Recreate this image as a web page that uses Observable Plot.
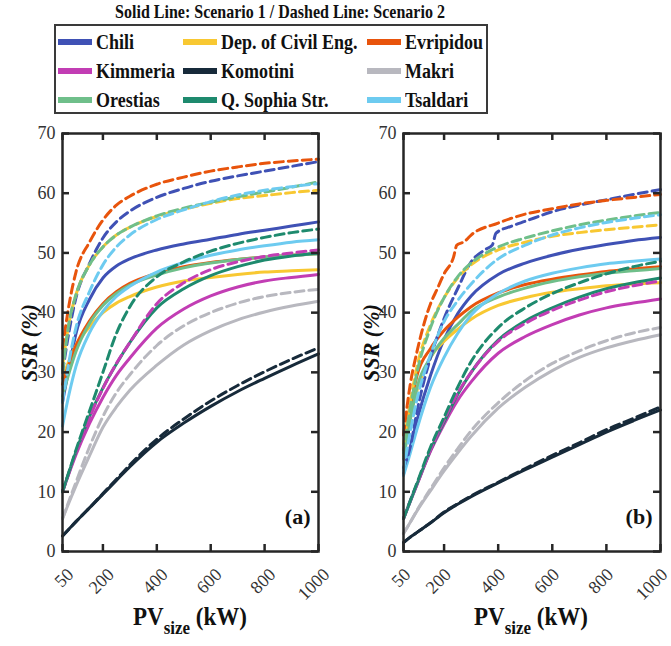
<!DOCTYPE html>
<html><head><meta charset="utf-8">
<script src="https://cdn.jsdelivr.net/npm/d3@7"></script>
<script src="https://cdn.jsdelivr.net/npm/@observablehq/plot@0.6"></script>
<style>
body{margin:0;background:#fff;}
#wrap{position:relative;width:671px;height:646px;overflow:hidden;font-family:"Liberation Serif","DejaVu Serif",serif;color:#111;}
.title{position:absolute;left:0;width:560px;top:3px;text-align:center;font-weight:bold;font-size:16px;transform:scaleY(1.2);}
#legend{position:absolute;left:54px;top:24px;width:430px;height:86px;border:2px solid #3a3a3a;}
.item{position:absolute;height:20px;display:flex;align-items:center;}
.sw{width:34px;height:6px;margin-right:4px;flex:none;}
.lab{font-weight:bold;font-size:18px;transform:scaleY(1.2);transform-origin:left center;white-space:nowrap;}
.panel{position:absolute;top:118px;}
.ylab{position:absolute;font-weight:bold;font-style:italic;font-size:22px;transform:translate(-50%,-50%) rotate(-90deg) scaleY(1.05);white-space:nowrap;}
.xlab{position:absolute;font-weight:bold;font-size:23px;transform:translateX(-50%) scaleY(1.12);white-space:nowrap;}
.xlab sub{font-size:17px;vertical-align:-8px;}
</style></head>
<body>
<div id="wrap">
  <div class="title">Solid Line: Scenario 1 / Dashed Line: Scenario 2</div>
  <div id="legend"></div>
  <div class="panel" id="pa" style="left:0px"></div>
  <div class="panel" id="pb" style="left:340px"></div>
  <div class="ylab" style="left:30px;top:343px">SSR (%)</div>
  <div class="ylab" style="left:372px;top:343px">SSR (%)</div>
  <div class="xlab" style="left:190px;top:605px">PV<sub>size</sub> (kW)</div>
  <div class="xlab" style="left:531px;top:605px">PV<sub>size</sub> (kW)</div>
</div>
<script>
// ---------- data ----------
const sizes = [50, 75, 100, 150, 200, 250, 300, 400, 500, 600, 700, 800, 900, 1000];
const xTicks = [50, 200, 400, 600, 800, 1000];
const yTicks = [0, 10, 20, 30, 40, 50, 60, 70];
const names = ["Chili", "Dep. of Civil Eng.", "Evripidou", "Kimmeria", "Komotini", "Makri", "Orestias", "Q. Sophia Str.", "Tsaldari"];
const colors = ["#3F51B5", "#F8C832", "#E8540C", "#C23DB4", "#172A3A", "#B8B8BF", "#6FBF8A", "#1E8A6E", "#6DCBF0"];

// Panel (a) - Scenario 1 (solid)
const chiliA1 = [25, 31, 36.5, 42.2, 45.8, 47.8, 49.0, 50.5, 51.5, 52.3, 53.1, 53.8, 54.5, 55.2];
const depA1   = [29, 32, 34.5, 37.6, 40.0, 41.6, 42.7, 44.3, 45.3, 45.9, 46.4, 46.8, 47.0, 47.2];
const evrA1   = [28, 31.5, 34.5, 38.6, 41.5, 43.5, 44.9, 46.6, 47.7, 48.4, 48.9, 49.3, 49.6, 49.9];
const kimA1   = [10, 13.2, 16.2, 21.4, 25.8, 29.5, 32.4, 37.4, 40.6, 42.8, 44.3, 45.3, 45.9, 46.4];
const komA1   = [2.6, 3.8, 5.0, 7.3, 9.6, 11.9, 14.2, 18.3, 21.5, 24.3, 26.8, 29.0, 31.1, 33.1];
const makA1   = [5.5, 8.3, 11.0, 16.0, 20.8, 24.2, 27.0, 31.2, 34.6, 37.0, 38.8, 40.1, 41.1, 41.9];
const oreA1   = [26, 30, 33.5, 38.2, 41.2, 43.2, 44.6, 46.3, 47.5, 48.3, 48.9, 49.3, 49.6, 49.8];
const qsoA1   = [10, 13.4, 16.7, 22.6, 27.4, 31.4, 35.0, 40.8, 44.0, 46.2, 47.7, 48.8, 49.5, 50.0];
const tsaA1   = [21, 26.5, 31, 36.6, 40.2, 42.7, 44.4, 46.8, 48.4, 49.6, 50.5, 51.2, 51.8, 52.2];
// Panel (a) - Scenario 2 (dashed)
const chiliA2 = [30, 37, 42.5, 48.2, 52.5, 55.2, 57.0, 59.3, 60.8, 62.0, 62.9, 63.7, 64.5, 65.3];
const depA2   = [31, 38.5, 43, 48.0, 51.0, 53.0, 54.3, 56.1, 57.3, 58.3, 59.1, 59.6, 60.1, 60.5];
const evrA2   = [34, 41.5, 46.8, 51.8, 55.5, 58.0, 59.5, 61.5, 62.7, 63.7, 64.4, 65.0, 65.4, 65.7];
const kimA2   = [10, 13.3, 16.6, 22.4, 27.3, 31.5, 35.0, 41.5, 45.0, 47.2, 48.5, 49.4, 50.0, 50.5];
const komA2   = [2.6, 3.8, 5.0, 7.3, 9.7, 12.1, 14.5, 18.8, 22.2, 25.2, 27.8, 30.1, 32.2, 34.1];
const makA2   = [5.5, 8.6, 11.6, 17.5, 22.6, 26.6, 29.6, 34.5, 37.8, 40.0, 41.6, 42.7, 43.4, 43.9];
const oreA2   = [30, 38.5, 43, 48.0, 51.0, 53.0, 54.3, 56.2, 57.5, 58.5, 59.4, 60.2, 61.0, 61.9];
const qsoA2   = [10, 13.5, 17, 23.5, 30.0, 36.5, 41.0, 46.0, 48.5, 50.3, 51.6, 52.6, 53.4, 54.0];
const tsaA2   = [25, 32, 37.5, 43.5, 48.0, 51.0, 53.0, 55.6, 57.2, 58.6, 59.7, 60.5, 61.1, 61.6];

// Panel (b) - Scenario 1 (solid)
const chiliB1 = [13, 17.5, 22, 29.5, 35.5, 39.8, 42.8, 46.4, 48.3, 49.6, 50.6, 51.4, 52.1, 52.6];
const depB1   = [16, 22.5, 27, 32.5, 35.2, 37.2, 38.9, 41.2, 42.5, 43.4, 44.0, 44.5, 44.8, 45.0];
const evrB1   = [17, 24, 29.5, 34, 37.0, 39.2, 41.0, 43.3, 44.7, 45.6, 46.3, 46.9, 47.3, 47.7];
const kimB1   = [5.5, 8.4, 11.2, 16.8, 21.3, 25.3, 28.4, 33.2, 36.0, 38.0, 39.6, 40.8, 41.6, 42.3];
const komB1   = [1.5, 2.4, 3.2, 4.8, 6.5, 7.9, 9.2, 11.5, 13.7, 15.8, 17.9, 20.0, 21.9, 23.7];
const makB1   = [3, 4.9, 6.8, 10.2, 13.5, 16.5, 19.3, 24.0, 27.5, 30.3, 32.5, 34.1, 35.3, 36.3];
const oreB1   = [15.5, 22, 27.5, 32.5, 35.7, 38.0, 40.2, 42.6, 44.1, 45.2, 46.0, 46.6, 47.0, 47.4];
const qsoB1   = [5.5, 8.4, 11.3, 17, 21.7, 26.3, 30.0, 35.4, 38.6, 40.8, 42.6, 44.0, 45.0, 45.8];
const tsaB1   = [12.7, 16.5, 20.5, 27.5, 32.5, 36.5, 39.6, 43.2, 45.3, 46.6, 47.5, 48.2, 48.6, 49.0];
// Panel (b) - Scenario 2 (dashed)
const chiliB2Sizes = [50, 75, 100, 150, 200, 250, 300, 350, 378, 392, 450, 500, 600, 700, 800, 900, 1000];
const chiliB2 = [14, 17.5, 23.5, 32.5, 39, 44, 48.5, 50.5, 51.3, 53.3, 54.5, 55.3, 56.9, 58.0, 58.9, 59.8, 60.6];
const depB2   = [18, 25, 31, 38, 42.5, 45.8, 48.0, 50.5, 51.8, 52.8, 53.4, 53.9, 54.3, 54.7];
const evrB2Sizes = [50, 75, 100, 125, 150, 175, 200, 235, 247, 275, 300, 400, 500, 600, 700, 800, 900, 1000];
const evrB2   = [19.5, 28, 33.5, 38, 41.5, 44, 46.5, 49.3, 51.3, 51.9, 53, 55, 56.5, 57.4, 58.2, 58.8, 59.3, 59.8];
const kimB2   = [5.5, 8.5, 11.3, 17, 22, 26.5, 30, 35.2, 38.2, 40.4, 42.1, 43.5, 44.5, 45.3];
const komB2   = [1.5, 2.4, 3.2, 4.8, 6.6, 8.0, 9.3, 11.6, 13.9, 16.1, 18.2, 20.4, 22.3, 24.2];
const makB2   = [3, 4.9, 6.9, 10.5, 14, 17.2, 20.2, 24.9, 28.6, 31.5, 33.6, 35.3, 36.6, 37.5];
const oreB2   = [16.5, 24, 30, 37.5, 42.5, 46, 48.3, 51, 52.5, 53.7, 54.7, 55.5, 56.2, 56.8];
const qsoB2   = [5.5, 8.5, 11.5, 17.5, 22.5, 27.5, 31.8, 37.5, 40.8, 43.2, 45.0, 46.5, 47.7, 48.6];
const tsaB2   = [13.5, 20, 25.5, 33, 38.5, 42, 44.8, 49.0, 51.3, 53.0, 54.2, 55.1, 55.8, 56.4];

// ---------- assembly ----------
function rows(xs, ys, name) { return xs.map((x, i) => ({x, y: ys[i], name})); }
const panelA = {
  s1: [chiliA1, depA1, evrA1, kimA1, komA1, makA1, oreA1, qsoA1, tsaA1].map((v, i) => rows(sizes, v, names[i])),
  s2: [chiliA2, depA2, evrA2, kimA2, komA2, makA2, oreA2, qsoA2, tsaA2].map((v, i) => rows(sizes, v, names[i]))
};
const panelB = {
  s1: [chiliB1, depB1, evrB1, kimB1, komB1, makB1, oreB1, qsoB1, tsaB1].map((v, i) => rows(sizes, v, names[i])),
  s2: [rows(chiliB2Sizes, chiliB2, names[0]), rows(sizes, depB2, names[1]), rows(evrB2Sizes, evrB2, names[2]),
       ...[kimB2, komB2, makB2, oreB2, qsoB2, tsaB2].map((v, i) => rows(sizes, v, names[i + 3]))]
};

// legend
const legend = document.getElementById("legend");
const colLeft = [2, 127, 311], rowTop = [6, 35, 64];
names.forEach((n, i) => {
  const it = document.createElement("div");
  it.className = "item";
  it.style.left = colLeft[i % 3] + "px";
  it.style.top = rowTop[Math.floor(i / 3)] + "px";
  it.innerHTML = `<div class="sw" style="background:${colors[i]}"></div><span class="lab">${n}</span>`;
  legend.appendChild(it);
});

const axisColor = "#262626";
function panel(data, label, width, mLeft, mRight, labelDx) {
  const height = 528, mTop = 15, mBottom = 95;
  const innerH = height - mTop - mBottom, innerW = width - mLeft - mRight;
  const marks = [];
  data.s1.forEach((r, i) => marks.push(Plot.line(r, {x: "x", y: "y", stroke: colors[i], strokeWidth: 3, curve: "monotone-x"})));
  data.s2.forEach((r, i) => marks.push(Plot.line(r, {x: "x", y: "y", stroke: colors[i], strokeWidth: 3, strokeDasharray: "9,5", curve: "monotone-x"})));
  marks.push(
    Plot.tickX(xTicks, {x: d => d, insetTop: innerH - 7, stroke: axisColor, strokeWidth: 2.5}),
    Plot.tickX(xTicks, {x: d => d, insetBottom: innerH - 7, stroke: axisColor, strokeWidth: 2.5}),
    Plot.tickY(yTicks, {y: d => d, insetRight: innerW - 7, stroke: axisColor, strokeWidth: 2.5}),
    Plot.tickY(yTicks, {y: d => d, insetLeft: innerW - 7, stroke: axisColor, strokeWidth: 2.5}),
    Plot.frame({stroke: axisColor, strokeWidth: 2.5}),
    Plot.axisY(yTicks, {tickSize: 0, tickPadding: 7, label: null, fontSize: 18, fill: "#333", tickFormat: d => String(d)}),
    Plot.axisX(xTicks, {tickSize: 0, tickRotate: -45, tickPadding: 20, dx: labelDx, label: null, fontSize: 18, fill: "#333", tickFormat: d => String(d)}),
    Plot.text([label], {text: d => d, frameAnchor: "bottom-right", dx: -8, dy: -28, textAnchor: "end", fontWeight: "bold", fontSize: 22, fill: "#111"})
  );
  return Plot.plot({
    width, height, marginLeft: mLeft, marginRight: mRight, marginTop: mTop, marginBottom: mBottom,
    x: {domain: [50, 1000]}, y: {domain: [0, 70]},
    style: {fontFamily: "'Liberation Serif', 'DejaVu Serif', serif", background: "transparent", overflow: "visible"},
    marks
  });
}
document.getElementById("pa").appendChild(panel(panelA, "(a)", 335, 62, 17, 8));
document.getElementById("pb").appendChild(panel(panelB, "(b)", 331, 63, 11, 4));
</script>
</body></html>
